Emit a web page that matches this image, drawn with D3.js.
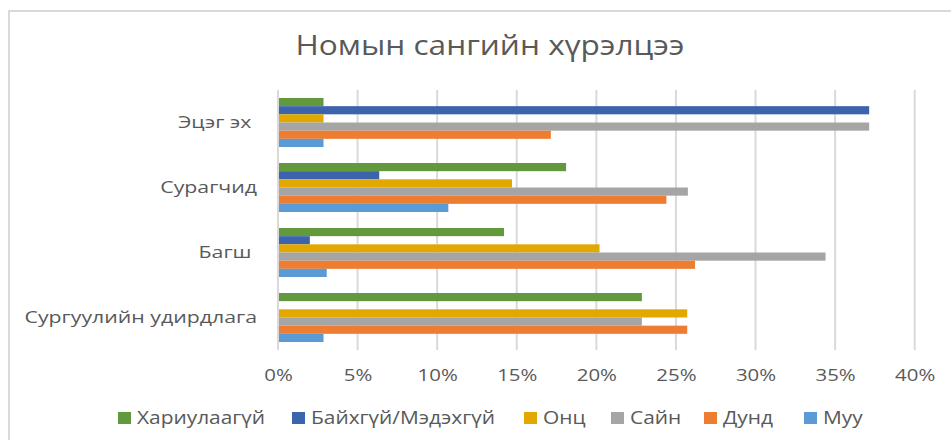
<!DOCTYPE html>
<html>
<head>
<meta charset="utf-8">
<script src="https://cdn.jsdelivr.net/npm/d3@7"></script>
<style>
  html, body { margin: 0; padding: 0; background: #fff; }
  svg { display: block; }
  text { white-space: pre; }
</style>
</head>
<body>
<svg id="chart" width="951" height="440"></svg>
<script>
// ---- data ----
const title = "Номын сангийн хүрэлцээ";
const categories = ["Эцэг эх ", "Сурагчид", "Багш ", "Сургуулийн удирдлага"];
const seriesNames = ["Хариулаагүй", "Байхгүй/Мэдэхгүй", "Онц", "Сайн", "Дунд", "Муу"];
const seriesColors = ["#63993d", "#3b64ad", "#e2a800", "#a5a5a5", "#ed7d31", "#5b9bd5"];
// values in %, one array per series, aligned with categories
const hariulaagui = [2.86, 18.1, 14.2, 22.86];
const baikhgui    = [37.14, 6.36, 2.0, 0];
const onts        = [2.86, 14.7, 20.2, 25.71];
const sain        = [37.14, 25.75, 34.4, 22.86];
const dund        = [17.14, 24.4, 26.2, 25.71];
const muu         = [2.86, 10.7, 3.06, 2.86];
const seriesValues = [hariulaagui, baikhgui, onts, sain, dund, muu];
const xTicks = [0, 5, 10, 15, 20, 25, 30, 35, 40];

const svg = d3.select("#chart");
const textColor = "#595959";
const gridColor = "#d9d9d9";
const font = "'Open Sans', sans-serif";

// horizontal stretch of text (the reference is rendered slightly wide)
function stretch(sel, k) {
  sel.each(function () {
    const w = this.getComputedTextLength();
    this.setAttribute("textLength", w * k);
    this.setAttribute("lengthAdjust", "spacingAndGlyphs");
  });
}

// chart border
svg.append("path")
  .attr("d", "M9,440 V11 H951")
  .attr("fill", "none").attr("stroke", gridColor).attr("stroke-width", 2);

// title
const t = svg.append("text")
  .attr("x", 490).attr("y", 55)
  .attr("text-anchor", "middle")
  .attr("font-family", font)
  .attr("font-size", 27)
  .attr("fill", textColor)
  .text(title);
stretch(t, 1.17);

const x = d3.scaleLinear().domain([0, 40]).range([278, 914.7]);
const y = d3.scaleBand().domain(categories).range([90, 350]).paddingInner(0.246).paddingOuter(0.123);
const yInner = d3.scaleBand().domain(seriesNames).range([0, y.bandwidth()]);

// gridlines
svg.append("g").selectAll("line").data(xTicks).join("line")
  .attr("x1", d => x(d)).attr("x2", d => x(d))
  .attr("y1", 90).attr("y2", 350)
  .attr("stroke", gridColor).attr("stroke-width", 2);

// bars
const groups = svg.append("g").selectAll("g").data(categories).join("g")
  .attr("transform", c => `translate(0,${y(c)})`);
groups.selectAll("rect")
  .data((c, ci) => seriesNames.map((s, si) => ({ s, si, v: seriesValues[si][ci] })))
  .join("rect")
  .attr("x", x(0) + 1)
  .attr("y", d => yInner(d.s))
  .attr("width", d => Math.max(0, x(d.v) - x(0) - 1))
  .attr("height", yInner.bandwidth())
  .attr("fill", d => seriesColors[d.si]);

// y-axis labels
const yAxis = d3.axisLeft(y).tickSize(0).tickPadding(0);
const yg = svg.append("g").attr("transform", "translate(257,0)").call(yAxis);
yg.select(".domain").remove();
yg.selectAll("text")
  .attr("font-family", font)
  .attr("font-size", 16)
  .attr("fill", textColor)
  .attr("dy", "0.35em")
  .call(stretch, 1.33);

// x-axis labels
const xAxis = d3.axisBottom(x).tickValues(xTicks).tickFormat(d => d + "%").tickSize(0).tickPadding(0);
const xg = svg.append("g").attr("transform", "translate(0,375)").call(xAxis);
xg.select(".domain").remove();
xg.selectAll("text")
  .attr("font-family", font)
  .attr("font-size", 17)
  .attr("fill", textColor)
  .attr("dy", "0.35em")
  .attr("y", 0)
  .call(stretch, 1.2);

// legend
const legendX = [118, 292, 524, 611, 704, 804];
const lg = svg.append("g").selectAll("g").data(seriesNames).join("g")
  .attr("transform", (d, i) => `translate(${legendX[i]},418)`);
lg.append("rect").attr("x", 0).attr("y", -6).attr("width", 13).attr("height", 12)
  .attr("fill", (d, i) => seriesColors[i]);
lg.append("text").attr("x", 19).attr("y", 0).attr("dy", "0.35em")
  .attr("font-family", font)
  .attr("font-size", 18)
  .attr("fill", textColor)
  .text(d => d)
  .call(stretch, 1.16);
</script>
</body>
</html>
